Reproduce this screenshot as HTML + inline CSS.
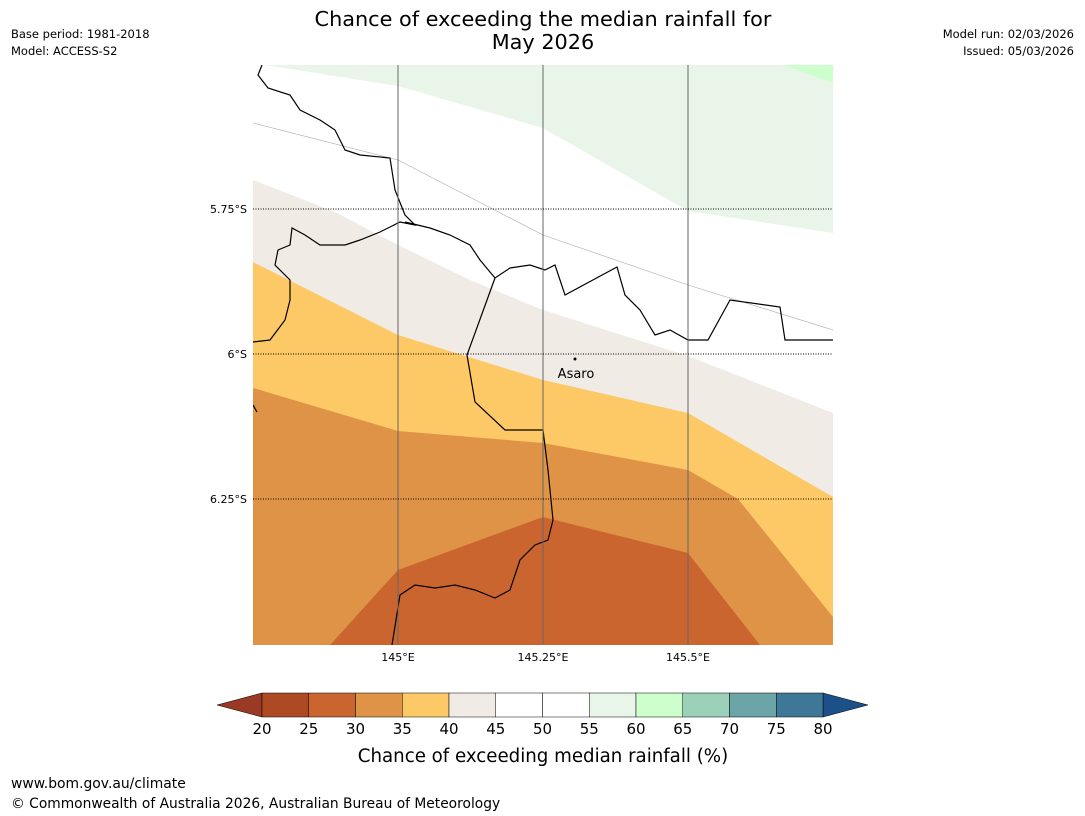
<!DOCTYPE html>
<html><head><meta charset="utf-8"><style>
body{margin:0;background:#fff;width:1085px;height:816px;overflow:hidden;font-family:"DejaVu Sans","Liberation Sans",sans-serif}
svg{position:absolute;left:0;top:0;font-family:"DejaVu Sans","Liberation Sans",sans-serif}
</style></head><body>
<svg width="1085" height="816" viewBox="0 0 1085 816">
<text x="543" y="26" font-size="20.8" text-anchor="middle">Chance of exceeding the median rainfall for</text>
<text x="543" y="49" font-size="20.8" text-anchor="middle">May 2026</text>
<text x="11" y="38" font-size="11.5">Base period: 1981-2018</text>
<text x="11" y="55" font-size="11.5">Model: ACCESS-S2</text>
<text x="1074" y="38" font-size="11.5" text-anchor="end">Model run: 02/03/2026</text>
<text x="1074" y="55" font-size="11.5" text-anchor="end">Issued: 05/03/2026</text>

<g>
<clipPath id="mc"><rect x="253" y="65" width="580" height="580"/></clipPath>
<g clip-path="url(#mc)">
<rect x="253" y="65" width="580" height="580" fill="#fff"/>
<polygon fill="#e9f5e9" points="265,65 398,86 543,128 688,211 833,233 833,65"/>
<polygon fill="#ccffcc" points="783,65 833,83 833,65"/>
<polyline fill="none" stroke="#aaa" stroke-width="0.6" points="253,123 398,160 543,235 688,285 833,330"/>
<polygon fill="#f0ebe5" points="253,180 335,212 398,245 470,280 543,310 688,356 833,413 833,645 253,645"/>
<polygon fill="#fdc966" points="253,262 398,335 543,380 688,413 833,497 833,645 253,645"/>
<polygon fill="#df9346" points="253,388 398,431 543,443 688,470 738,499 833,617 833,645 253,645"/>
<polygon fill="#cb6530" points="330,645 398,570 543,517 688,553 760,645"/>
<g stroke="#000" stroke-width="1.2" fill="none">
<polyline points="262,65 258,75 268,88 290,95 300,110 320,120 335,130 345,150 360,155 390,158 395,190 405,215 415,225 400,222 380,232 360,240 345,245 320,245 305,235 292,228 290,245 278,250 275,265 290,280 290,300 285,320 270,340 253,342"/>
<polyline points="405,222 430,228 450,235 470,245 480,260 495,278 510,268 530,265 545,270 555,265 565,295 617,267 625,295 640,310 655,335 670,330 688,340 708,340 730,300 780,307 785,340 833,340"/>
<polyline points="495,278 467,355 475,402 505,430 543,430 548,470 553,520 548,540 535,545 520,560 510,590 495,598 475,590 455,585 435,588 415,585 400,595 396,620 392,645"/>
<polyline points="253,405 257,412"/>
</g>
<g stroke="#666" stroke-width="1">
<line x1="398" y1="65" x2="398" y2="645"/><line x1="543" y1="65" x2="543" y2="645"/><line x1="688" y1="65" x2="688" y2="645"/>
</g>
<g stroke="#000" stroke-width="1" stroke-dasharray="1,1.5">
<line x1="253" y1="209" x2="833" y2="209"/><line x1="253" y1="354" x2="833" y2="354"/><line x1="253" y1="499" x2="833" y2="499"/>
</g>
</g>
<circle cx="575" cy="359" r="1.5" fill="#000"/>
<text x="576" y="378" font-size="13" text-anchor="middle">Asaro</text>
<g font-size="11">
<text x="247" y="213" text-anchor="end">5.75°S</text>
<text x="247" y="358" text-anchor="end">6°S</text>
<text x="247" y="503" text-anchor="end">6.25°S</text>
<text x="398" y="661" text-anchor="middle">145°E</text>
<text x="543" y="661" text-anchor="middle">145.25°E</text>
<text x="688" y="661" text-anchor="middle">145.5°E</text>
</g>
</g>
<g id="cbar"></g>
<text x="543" y="762" font-size="18.2" text-anchor="middle">Chance of exceeding median rainfall (%)</text>
<text x="11" y="788" font-size="13.9">www.bom.gov.au/climate</text>
<text x="11" y="808" font-size="13.8">© Commonwealth of Australia 2026, Australian Bureau of Meteorology</text>
</svg>
<script>
const levels=[20,25,30,35,40,45,50,55,60,65,70,75,80];
const colors=["#ad4a24","#cb6530","#df9346","#fdc966","#f0ebe5","#ffffff","#ffffff","#e9f5e9","#ccffcc","#9dd0b8","#6ca5a8","#3f7897"];
const ns="http://www.w3.org/2000/svg";
const g=document.getElementById('cbar');
const x0=262,x1=823,y0=693,h=24;
const sx=v=>x0+(v-levels[0])/(levels[levels.length-1]-levels[0])*(x1-x0);
function mk(t,a){const e=document.createElementNS(ns,t);for(const k in a)e.setAttribute(k,a[k]);g.appendChild(e);return e;}
const lo=mk('polygon',{points:`${x0},${y0} ${x0},${y0+h} 217,${y0+h/2}`,fill:"#9a3a24",stroke:"#000","stroke-width":0.5});


const hi=mk('polygon',{points:`${x1},${y0} ${x1},${y0+h} 868,${y0+h/2}`,fill:"#1c5088",stroke:"#000","stroke-width":0.5});


for(let i=0;i<colors.length;i++){
const r=mk('rect',{x:sx(levels[i]),y:y0,width:sx(levels[i+1])-sx(levels[i]),height:h,fill:colors[i],stroke:"#000","stroke-width":0.5});


}
levels.forEach(v=>{
const t=mk('text',{x:sx(v),y:734,"font-size":15,"text-anchor":"middle"});t.textContent=v;


});
</script>
</body></html>
